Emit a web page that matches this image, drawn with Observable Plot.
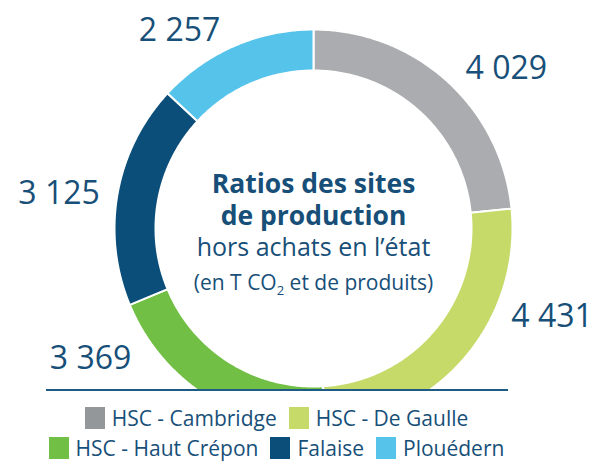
<!DOCTYPE html>
<html>
<head>
<meta charset="utf-8">
<script src="https://cdn.jsdelivr.net/npm/d3@7"></script>
<script src="https://cdn.jsdelivr.net/npm/@observablehq/plot@0.6"></script>
<style>
  body { margin: 0; background: #fff; font-family: "Open Sans", sans-serif; }
  #chart { width: 595px; }
  .legend { width: 595px; box-sizing: border-box; padding-right: 42px; margin-top: 7px;
            font-family: "Open Sans", sans-serif; font-size: 21px; color: #174f78; }
  .row { display: flex; justify-content: center; gap: 12px; height: 22px; line-height: 22px; margin-bottom: 8px; }
  .item { display: flex; align-items: center; white-space: nowrap; }
  .sw { width: 20px; height: 22px; margin-right: 7px; flex: none; }
</style>
</head>
<body>
<div id="chart"></div>
<script>
// ---- data ----
const sites = ["HSC - Cambridge", "HSC - De Gaulle", "HSC - Haut Crépon", "Falaise", "Plouédern"];
const values = [4029, 4431, 3369, 3125, 2257];
const colors = ["#abacaf", "#c6da6a", "#72bf45", "#0b4e79", "#56c3eb"];
const legendSwatchColors = ["#949799", "#c6da6a", "#72bf45", "#0b4e79", "#56c3eb"];
const titleLines = ["Ratios des sites", "de production"];
const subtitleText = "hors achats en l’état";
const unitText = "(en T CO2 et de produits)";
const legendRows = [[0, 1], [2, 3, 4]];

// ---- layout (not data) ----
const textColor = "#174f78";
const W = 595, H = 400;
const cx = 313, cy = 228, pxPerUnit = 198;         // ring centre / scale in px
const R = 1.005, r0 = 0.798;                        // outer / inner radius (units)
const cutY = (cy - 389.5) / pxPerUnit;              // baseline that cuts the ring
const baseLine = {y: cutY, x1: (46 - cx) / pxPerUnit, x2: (508 - cx) / pxPerUnit};
// label placement in polar form (angle in degrees clockwise from top, radius in units)
const labelPolar = [
  {angle: 52.3, radius: 1.231},
  {angle: 112.5, radius: 1.304},
  {angle: 237.7, radius: 1.332},
  {angle: 275.4, radius: 1.291},
  {angle: 324.4, radius: 1.162}
];

const fmt = d3.formatLocale({decimal: ",", thousands: " ", grouping: [3], currency: ["", "€"]}).format(",d");
const data = sites.map((site, i) => ({site, value: values[i]}));

// polygons for each sector
const arcs = d3.pie().sort(null).value(d => d.value)(data);
const poly = [];
for (const a of arcs) {
  const n = Math.max(2, Math.ceil((a.endAngle - a.startAngle) / (Math.PI / 360)));
  const pts = [];
  for (let k = 0; k <= n; k++) {
    const t = a.startAngle + (a.endAngle - a.startAngle) * k / n;
    pts.push([R * Math.sin(t), R * Math.cos(t)]);
  }
  for (let k = n; k >= 0; k--) {
    const t = a.startAngle + (a.endAngle - a.startAngle) * k / n;
    pts.push([r0 * Math.sin(t), r0 * Math.cos(t)]);
  }
  pts.push(pts[0]);
  for (const [x, y] of pts) poly.push({site: a.data.site, x, y: Math.max(y, cutY)});
}

const labels = data.map((d, i) => {
  const t = labelPolar[i].angle * Math.PI / 180;
  return {text: fmt(d.value), x: labelPolar[i].radius * Math.sin(t), y: labelPolar[i].radius * Math.cos(t)};
});

const u = px => (cy - px) / pxPerUnit; // convert a pixel row to units (for centre text baselines)
const centre = [
  {text: titleLines.join("\n"), y: u(224), size: 26.5, weight: 700, lh: 1.2},
  {text: subtitleText, y: u(255.7), size: 25, weight: 400, lh: 1},
  {text: unitText, y: u(289), size: 21, weight: 400, lh: 1}
];

const chart = Plot.plot({
  width: W, height: H, margin: 0,
  style: {fontFamily: "Open Sans", background: "white"},
  x: {domain: [-cx / pxPerUnit, (W - cx) / pxPerUnit], axis: null},
  y: {domain: [(cy - H) / pxPerUnit, cy / pxPerUnit], axis: null},
  color: {domain: sites, range: colors},
  marks: [
    Plot.line(poly, {x: "x", y: "y", z: "site", fill: "site", stroke: "white", strokeWidth: 2, curve: "linear"}),
    Plot.ruleY([baseLine], {y: "y", x1: "x1", x2: "x2", stroke: "#1d5a84", strokeWidth: 2}),
    Plot.text(labels, {x: "x", y: "y", text: "text", fill: textColor, fontSize: 32, textAnchor: "middle", lineAnchor: "bottom"}),
    ...centre.map(c => Plot.text([c], {x: () => 0, y: "y", text: "text", fill: textColor, fontSize: c.size,
      fontWeight: c.weight, textAnchor: "middle", lineAnchor: "bottom", lineHeight: c.lh}))
  ]
});

// subscript for CO2
for (const t of chart.querySelectorAll("text")) {
  if (t.textContent === unitText) {
    const i = unitText.indexOf("CO2") + 2;
    const ns = "http://www.w3.org/2000/svg";
    const before = unitText.slice(0, i), sub = unitText.slice(i, i + 1), after = unitText.slice(i + 1);
    t.textContent = "";
    const a = document.createElementNS(ns, "tspan"); a.textContent = before;
    const b = document.createElementNS(ns, "tspan"); b.textContent = sub;
    b.setAttribute("font-size", "13"); b.setAttribute("dy", "5");
    const c = document.createElementNS(ns, "tspan"); c.textContent = after; c.setAttribute("dy", "-5");
    t.append(a, b, c);
  }
}

document.getElementById("chart").append(chart);

// legend
const legend = document.createElement("div");
legend.className = "legend";
for (const row of legendRows) {
  const r = document.createElement("div");
  r.className = "row";
  for (const i of row) {
    const it = document.createElement("div");
    it.className = "item";
    const sw = document.createElement("span");
    sw.className = "sw";
    sw.style.background = legendSwatchColors[i];
    const lab = document.createElement("span");
    lab.textContent = sites[i];
    it.append(sw, lab);
    r.append(it);
  }
  legend.append(r);
}
document.getElementById("chart").append(legend);
</script>
</body>
</html>
